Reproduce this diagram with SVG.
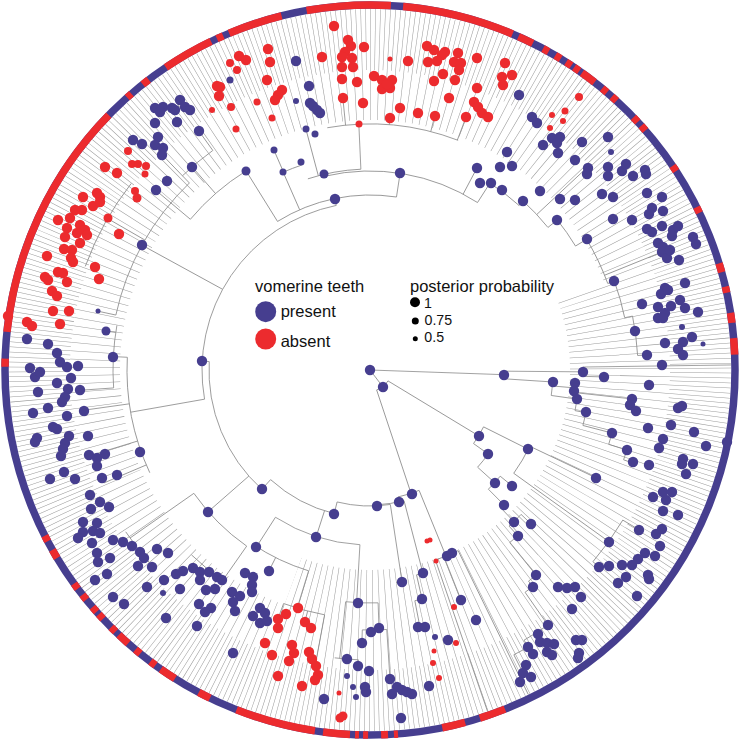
<svg xmlns="http://www.w3.org/2000/svg" width="741" height="741" viewBox="0 0 741 741">
<style>
.sk{fill:none;stroke:#8c8c8c;stroke-width:0.8}
.cb{fill:none;stroke:#9a9a9a}
.rg{fill:none;stroke-width:7.5}
.b{fill:#463e8f}
.r{fill:#ec2b2e}
text{font-family:"Liberation Sans",Arial,sans-serif;fill:#111}
</style>
<defs>
<clipPath id="sec"><polygon points="0,0 375.9,-136.8 362.5,169 136.8,375.9 -136.8,375.9"/></clipPath>
</defs>
<rect width="741" height="741" fill="#fff"/>
<g id="connectors" transform="translate(370,370)">
<circle class="cb" r="330.5" stroke-width="61" pathLength="360" stroke-dasharray="0.09 0.71" stroke-dashoffset="0.35"/>
<circle class="cb" r="275" stroke-width="50" pathLength="360" stroke-dasharray="0.11 1.49" stroke-dashoffset="0.35"/>
<circle class="cb" r="225" stroke-width="50" pathLength="360" stroke-dasharray="0.13 1.47" stroke-dashoffset="0.35" clip-path="url(#sec)"/>
<g class="sk">
<line x1="0" x2="134" transform="rotate(2)"/>
<line x1="0" x2="21" transform="rotate(52.6)"/>
<circle r="21" pathLength="360" stroke-dasharray="40.4 360" transform="rotate(31.2)"/>
<line x1="21" x2="127" transform="rotate(31.2)"/>
<line x1="21" x2="130" transform="rotate(71.6)"/>
<circle r="134" pathLength="360" stroke-dasharray="3.25 360" transform="rotate(0.5)"/>
<line x1="134" x2="213" transform="rotate(0.5)"/>
<circle r="213" pathLength="360" stroke-dasharray="2.5 360" transform="rotate(-0.8)"/>
<line x1="213" x2="361" transform="rotate(-0.8)"/>
<line x1="213" x2="234" transform="rotate(1.7)"/>
<line x1="134" x2="183" transform="rotate(3.75)"/>
<circle r="183" pathLength="360" stroke-dasharray="4.25 360" transform="rotate(3.75)"/>
<line x1="183" x2="205" transform="rotate(5)"/>
<circle r="205" pathLength="360" stroke-dasharray="2.4 360" transform="rotate(3.6)"/>
<line x1="183" x2="209" transform="rotate(8)"/>
<circle r="209" pathLength="360" stroke-dasharray="4.9 360" transform="rotate(6.3)"/>
<line x1="209" x2="264" transform="rotate(6.3)"/>
<line x1="209" x2="220" transform="rotate(11.2)"/>
<circle r="220" pathLength="360" stroke-dasharray="3.4 360" transform="rotate(11.2)"/>
<line x1="220" x2="250" transform="rotate(14.6)"/>
<circle r="250" pathLength="360" stroke-dasharray="2.7 360" transform="rotate(14.6)"/>
<line x1="250" x2="269" transform="rotate(17.3)"/>
<circle r="269" pathLength="360" stroke-dasharray="2.2 360" transform="rotate(17.3)"/>
<line x1="269" x2="279" transform="rotate(19.5)"/>
<circle r="127" pathLength="360" stroke-dasharray="8.8 360" transform="rotate(26.6)"/>
<line x1="127" x2="177" transform="rotate(26.6)"/>
<line x1="127" x2="145" transform="rotate(35.4)"/>
<circle r="177" pathLength="360" stroke-dasharray="10.2 360" transform="rotate(25.5)"/>
<line x1="177" x2="250" transform="rotate(25.5)"/>
<line x1="177" x2="294" transform="rotate(35.7)"/>
<circle r="294" pathLength="360" stroke-dasharray="10 360" transform="rotate(30.7)"/>
<line x1="294" x2="313" transform="rotate(30.7)"/>
<line x1="294" x2="302" transform="rotate(40.7)"/>
<circle r="145" pathLength="360" stroke-dasharray="6.7 360" transform="rotate(35.4)"/>
<line x1="145" x2="168" transform="rotate(42.1)"/>
<circle r="168" pathLength="360" stroke-dasharray="6 360" transform="rotate(39.2)"/>
<line x1="168" x2="183" transform="rotate(39.2)"/>
<line x1="168" x2="190" transform="rotate(45.2)"/>
<circle r="190" pathLength="360" stroke-dasharray="1.3 360" transform="rotate(45.2)"/>
<line x1="190" x2="209" transform="rotate(46.5)"/>
<circle r="209" pathLength="360" stroke-dasharray="4.6 360" transform="rotate(43.7)"/>
<line x1="209" x2="223" transform="rotate(43.7)"/>
<line x1="209" x2="222" transform="rotate(48.3)"/>
<circle r="222" pathLength="360" stroke-dasharray="2.7 360" transform="rotate(48.3)"/>
<line x1="222" x2="264" transform="rotate(51)"/>
<circle r="264" pathLength="360" stroke-dasharray="2.1 360" transform="rotate(51)"/>
<line x1="264" x2="271" transform="rotate(53.1)"/>
<circle r="271" pathLength="360" stroke-dasharray="2 360" transform="rotate(53.1)"/>
<line x1="271" x2="311" transform="rotate(55.1)"/>
<circle r="311" pathLength="360" stroke-dasharray="5.2 360" transform="rotate(55.1)"/>
<line x1="311" x2="319" transform="rotate(60.3)"/>
<circle r="319" pathLength="360" stroke-dasharray="2.9 360" transform="rotate(60.3)"/>
<line x1="319" x2="339" transform="rotate(63.2)"/>
<circle r="130" pathLength="360" stroke-dasharray="9.8 360" transform="rotate(67.8)"/>
<line x1="130" x2="201" transform="rotate(67.8)"/>
<circle r="201" pathLength="360" stroke-dasharray="7 360" transform="rotate(64)"/>
<line x1="201" x2="247" transform="rotate(68.4)"/>
<line x1="201" x2="361" transform="rotate(71)"/>
<line x1="201" x2="361" transform="rotate(64)"/>
<line x1="130" x2="135" transform="rotate(77.6)"/>
<circle r="135" pathLength="360" stroke-dasharray="11.6 360" transform="rotate(75.4)"/>
<line x1="135" x2="210" transform="rotate(75.4)"/>
<circle r="210" pathLength="360" stroke-dasharray="3.2 360" transform="rotate(74)"/>
<line x1="210" x2="235" transform="rotate(77.2)"/>
<circle r="235" pathLength="360" stroke-dasharray="1.8 360" transform="rotate(77.2)"/>
<line x1="235" x2="258" transform="rotate(79)"/>
<circle r="136" pathLength="360" stroke-dasharray="22.6 360" transform="rotate(81.4)"/>
<line x1="136" x2="214" transform="rotate(81.4)"/>
<circle r="214" pathLength="360" stroke-dasharray="3 360" transform="rotate(80)"/>
<line x1="136" x2="148" transform="rotate(104)"/>
<circle r="148" pathLength="360" stroke-dasharray="28.2 360" transform="rotate(104)"/>
<line x1="148" x2="175" transform="rotate(107.9)"/>
<line x1="148" x2="161" transform="rotate(132.2)"/>
<circle r="175" pathLength="360" stroke-dasharray="29.4 360" transform="rotate(93.3)"/>
<line x1="175" x2="233" transform="rotate(93.3)"/>
<line x1="175" x2="210" transform="rotate(122.7)"/>
<circle r="233" pathLength="360" stroke-dasharray="8 360" transform="rotate(88)"/>
<line x1="233" x2="260" transform="rotate(88)"/>
<line x1="233" x2="290" transform="rotate(96)"/>
<circle r="260" pathLength="360" stroke-dasharray="5.4 360" transform="rotate(86.3)"/>
<line x1="260" x2="310" transform="rotate(86.3)"/>
<line x1="260" x2="273" transform="rotate(91.7)"/>
<circle r="290" pathLength="360" stroke-dasharray="4.7 360" transform="rotate(92.3)"/>
<line x1="290" x2="296" transform="rotate(92.3)"/>
<circle r="210" pathLength="360" stroke-dasharray="17 360" transform="rotate(107)"/>
<line x1="210" x2="249" transform="rotate(107)"/>
<line x1="210" x2="225" transform="rotate(116.7)"/>
<circle r="249" pathLength="360" stroke-dasharray="9.8 360" transform="rotate(100.5)"/>
<line x1="249" x2="301" transform="rotate(100.5)"/>
<line x1="249" x2="260" transform="rotate(104.5)"/>
<line x1="249" x2="265" transform="rotate(110.3)"/>
<circle r="161" pathLength="360" stroke-dasharray="50.8 360" transform="rotate(132.2)"/>
<line x1="161" x2="215" transform="rotate(138.8)"/>
<circle r="215" pathLength="360" stroke-dasharray="20 360" transform="rotate(125)"/>
<line x1="215" x2="257" transform="rotate(125)"/>
<line x1="215" x2="293" transform="rotate(145)"/>
<circle r="257" pathLength="360" stroke-dasharray="10 360" transform="rotate(124)"/>
<circle r="293" pathLength="360" stroke-dasharray="8.7 360" transform="rotate(137.8)"/>
<line x1="161" x2="168" transform="rotate(183)"/>
<circle r="168" pathLength="360" stroke-dasharray="88.4 360" transform="rotate(170)"/>
<line x1="168" x2="243" transform="rotate(170)"/>
<circle r="243" pathLength="360" stroke-dasharray="28 360" transform="rotate(155)"/>
<line x1="243" x2="257" transform="rotate(183)"/>
<line x1="243" x2="289" transform="rotate(172)"/>
<line x1="243" x2="294" transform="rotate(163)"/>
<line x1="243" x2="289" transform="rotate(157)"/>
<circle r="257" pathLength="360" stroke-dasharray="14 360" transform="rotate(176)"/>
<line x1="257" x2="291" transform="rotate(176)"/>
<line x1="257" x2="267" transform="rotate(188.4)"/>
<line x1="168" x2="260" transform="rotate(208.7)"/>
<circle r="260" pathLength="360" stroke-dasharray="33.8 360" transform="rotate(192.2)"/>
<line x1="260" x2="278" transform="rotate(192.2)"/>
<line x1="260" x2="303" transform="rotate(210)"/>
<line x1="260" x2="299" transform="rotate(226)"/>
<circle r="303" pathLength="360" stroke-dasharray="18 360" transform="rotate(200)"/>
<line x1="168" x2="175" transform="rotate(258.4)"/>
<circle r="175" pathLength="360" stroke-dasharray="40.6 360" transform="rotate(238.1)"/>
<line x1="175" x2="234.5" transform="rotate(238.1)"/>
<circle r="234.5" pathLength="360" stroke-dasharray="18.1 360" transform="rotate(220)"/>
<line x1="234.5" x2="280" transform="rotate(220)"/>
<line x1="234.5" x2="270" transform="rotate(228.8)"/>
<circle r="270" pathLength="360" stroke-dasharray="8.4 360" transform="rotate(226)"/>
<line x1="270" x2="294" transform="rotate(234.4)"/>
<line x1="175" x2="216" transform="rotate(246.3)"/>
<circle r="216" pathLength="360" stroke-dasharray="5.3 360" transform="rotate(246.3)"/>
<line x1="216" x2="240" transform="rotate(246.4)"/>
<line x1="175" x2="199" transform="rotate(278.7)"/>
<circle r="199" pathLength="360" stroke-dasharray="45.9 360" transform="rotate(256.8)"/>
<circle r="201" pathLength="360" stroke-dasharray="15.4 360" transform="rotate(252)"/>
<line x1="201" x2="246" transform="rotate(267.4)"/>
<line x1="201" x2="249" transform="rotate(255.1)"/>
<circle r="246" pathLength="360" stroke-dasharray="31 360" transform="rotate(260)"/>
<line x1="246" x2="273" transform="rotate(264.3)"/>
<line x1="246" x2="253" transform="rotate(274.5)"/>
<line x1="246" x2="262" transform="rotate(284.3)"/>
<line x1="246" x2="271" transform="rotate(290.8)"/>
<line x1="199" x2="229" transform="rotate(297.9)"/>
<line x1="199" x2="222" transform="rotate(302.7)"/>
<circle r="222" pathLength="360" stroke-dasharray="9.5 360" transform="rotate(302.7)"/>
<line x1="222" x2="228" transform="rotate(312.2)"/>
<circle r="228" pathLength="360" stroke-dasharray="9.1 360" transform="rotate(312.2)"/>
<line x1="228" x2="297" transform="rotate(317)"/>
<line x1="228" x2="240" transform="rotate(321.3)"/>
<circle r="240" pathLength="360" stroke-dasharray="7.6 360" transform="rotate(321.3)"/>
<line x1="240" x2="253" transform="rotate(328.9)"/>
<circle r="253" pathLength="360" stroke-dasharray="11.1 360" transform="rotate(328.9)"/>
<line x1="253" x2="315" transform="rotate(338)"/>
<line x1="253" x2="260" transform="rotate(340)"/>
<circle r="260" pathLength="360" stroke-dasharray="8.4 360" transform="rotate(340)"/>
<line x1="260" x2="268" transform="rotate(348.4)"/>
<circle r="268" pathLength="360" stroke-dasharray="8.5 360" transform="rotate(348.4)"/>
<line x1="268" x2="277" transform="rotate(356.9)"/>
</g>
</g>
<g id="tips" transform="translate(370,370)">
<circle class="rg" r="365" stroke="#463e8f"/>
<g class="rg" stroke="#ec2b2e">
<circle r="365" pathLength="360" stroke-dasharray="4.2 360" transform="rotate(68.3)"/>
<circle r="365" pathLength="360" stroke-dasharray="3.7 360" transform="rotate(74.9)"/>
<circle r="365" pathLength="360" stroke-dasharray="0.65 360" transform="rotate(85.6)"/>
<circle r="365" pathLength="360" stroke-dasharray="1.1 360" transform="rotate(87.17)"/>
<circle r="365" pathLength="360" stroke-dasharray="0.8 360" transform="rotate(90.3)"/>
<circle r="365" pathLength="360" stroke-dasharray="0.63 360" transform="rotate(91.73)"/>
<circle r="365" pathLength="360" stroke-dasharray="4.26 360" transform="rotate(93.14)"/>
<circle r="365" pathLength="360" stroke-dasharray="12.8 360" transform="rotate(98.67)"/>
<circle r="365" pathLength="360" stroke-dasharray="2 360" transform="rotate(116)"/>
<circle r="365" pathLength="360" stroke-dasharray="2.7 360" transform="rotate(122.3)"/>
<circle r="365" pathLength="360" stroke-dasharray="1 360" transform="rotate(126)"/>
<circle r="365" pathLength="360" stroke-dasharray="1 360" transform="rotate(129)"/>
<circle r="365" pathLength="360" stroke-dasharray="2 360" transform="rotate(131.5)"/>
<circle r="365" pathLength="360" stroke-dasharray="1 360" transform="rotate(134.2)"/>
<circle r="365" pathLength="360" stroke-dasharray="1 360" transform="rotate(137)"/>
<circle r="365" pathLength="360" stroke-dasharray="1 360" transform="rotate(138.5)"/>
<circle r="365" pathLength="360" stroke-dasharray="1 360" transform="rotate(141)"/>
<circle r="365" pathLength="360" stroke-dasharray="1 360" transform="rotate(143.2)"/>
<circle r="365" pathLength="360" stroke-dasharray="1.5 360" transform="rotate(149)"/>
<circle r="365" pathLength="360" stroke-dasharray="1 360" transform="rotate(152)"/>
<circle r="365" pathLength="360" stroke-dasharray="1.3 360" transform="rotate(180.5)"/>
<circle r="365" pathLength="360" stroke-dasharray="38.3 360" transform="rotate(186)"/>
<circle r="365" pathLength="360" stroke-dasharray="0.9 360" transform="rotate(228.3)"/>
<circle r="365" pathLength="360" stroke-dasharray="1.2 360" transform="rotate(231.5)"/>
<circle r="365" pathLength="360" stroke-dasharray="8.2 360" transform="rotate(236)"/>
<circle r="365" pathLength="360" stroke-dasharray="1.1 360" transform="rotate(245.2)"/>
<circle r="365" pathLength="360" stroke-dasharray="8.7 360" transform="rotate(247.3)"/>
<circle r="365" pathLength="360" stroke-dasharray="13.3 360" transform="rotate(260)"/>
<circle r="365" pathLength="360" stroke-dasharray="17.8 360" transform="rotate(275.2)"/>
<circle r="365" pathLength="360" stroke-dasharray="2.5 360" transform="rotate(294)"/>
<circle r="365" pathLength="360" stroke-dasharray="1 360" transform="rotate(298.3)"/>
<circle r="365" pathLength="360" stroke-dasharray="1 360" transform="rotate(300.5)"/>
<circle r="365" pathLength="360" stroke-dasharray="1 360" transform="rotate(302.5)"/>
<circle r="365" pathLength="360" stroke-dasharray="1 360" transform="rotate(304)"/>
<circle r="365" pathLength="360" stroke-dasharray="2.5 360" transform="rotate(305.5)"/>
<circle r="365" pathLength="360" stroke-dasharray="1 360" transform="rotate(309.5)"/>
<circle r="365" pathLength="360" stroke-dasharray="1 360" transform="rotate(311.5)"/>
<circle r="365" pathLength="360" stroke-dasharray="1 360" transform="rotate(316.2)"/>
<circle r="365" pathLength="360" stroke-dasharray="1 360" transform="rotate(318)"/>
<circle r="365" pathLength="360" stroke-dasharray="1 360" transform="rotate(326)"/>
<circle r="365" pathLength="360" stroke-dasharray="1 360" transform="rotate(333.5)"/>
<circle r="365" pathLength="360" stroke-dasharray="1.5 360" transform="rotate(343)"/>
<circle r="365" pathLength="360" stroke-dasharray="1 360" transform="rotate(346.8)"/>
<circle r="365" pathLength="360" stroke-dasharray="1.6 360" transform="rotate(351)"/>
<circle r="365" pathLength="360" stroke-dasharray="2.6 360" transform="rotate(355)"/>
</g>
</g>
<g id="nodes-present" class="b">
<circle cx="370" cy="370" r="5.2"/><circle cx="383" cy="387" r="5.2"/><circle cx="504" cy="375" r="5.2"/><circle cx="479" cy="436" r="5.2"/><circle cx="488" cy="454" r="5.2"/><circle cx="262" cy="489" r="5.2"/>
<circle cx="230" cy="80" r="3.5"/>
<circle cx="155" cy="108" r="5.2"/><circle cx="163" cy="107" r="5.2"/><circle cx="172" cy="108" r="5.2"/><circle cx="180" cy="100" r="5.2"/><circle cx="185" cy="107" r="5.2"/><circle cx="190" cy="110" r="5.2"/><circle cx="175" cy="110" r="5.2"/><circle cx="160" cy="112" r="5.2"/>
<circle cx="155" cy="123" r="5.2"/><circle cx="177" cy="122" r="5.2"/><circle cx="199" cy="131" r="5.2"/>
<circle cx="158" cy="137" r="5.2"/><circle cx="133" cy="140" r="5.2"/><circle cx="142" cy="144" r="5.2"/><circle cx="155" cy="145" r="5.2"/><circle cx="163" cy="148" r="5.2"/><circle cx="162" cy="155" r="5.2"/>
<circle cx="192" cy="167" r="5.2"/><circle cx="167" cy="181" r="5.2"/><circle cx="156" cy="190" r="5.2"/><circle cx="246" cy="171" r="4.5"/><circle cx="142" cy="245" r="5.2"/>
<circle cx="296" cy="61" r="5.2"/><circle cx="309" cy="86" r="5.2"/><circle cx="310" cy="103" r="5.2"/><circle cx="313" cy="106" r="5.2"/><circle cx="317" cy="110" r="5.2"/><circle cx="320" cy="113" r="5.2"/>
<circle cx="296" cy="101" r="3"/><circle cx="306" cy="129" r="3.5"/><circle cx="315" cy="134" r="3.5"/><circle cx="274" cy="150" r="3.5"/><circle cx="301" cy="162" r="3.5"/><circle cx="283" cy="172" r="3.5"/>
<circle cx="324" cy="174" r="4.5"/><circle cx="400" cy="173" r="5.2"/><circle cx="335" cy="199" r="5.2"/><circle cx="477" cy="168" r="5.2"/><circle cx="480" cy="183" r="5.2"/><circle cx="491" cy="183" r="5.2"/>
<circle cx="519" cy="95" r="5.2"/><circle cx="532" cy="117" r="5.2"/><circle cx="537" cy="123" r="5.2"/><circle cx="543" cy="145" r="5.2"/><circle cx="552" cy="138" r="5.2"/><circle cx="560" cy="137" r="5.2"/><circle cx="557" cy="143" r="5.2"/><circle cx="558" cy="153" r="5.2"/>
<circle cx="507" cy="152" r="5.2"/><circle cx="500" cy="167" r="5.2"/><circle cx="512" cy="166" r="5.2"/><circle cx="502" cy="190" r="5.2"/><circle cx="523" cy="201" r="5.2"/><circle cx="540" cy="191" r="5.2"/><circle cx="560" cy="199" r="5.2"/><circle cx="575" cy="200" r="5.2"/><circle cx="557" cy="220" r="5.2"/><circle cx="587" cy="239" r="5.2"/>
<circle cx="582" cy="142" r="5.2"/><circle cx="608" cy="137" r="5.2"/><circle cx="611" cy="152" r="3"/><circle cx="575" cy="160" r="5.2"/><circle cx="588" cy="168" r="5.2"/><circle cx="587" cy="174" r="5.2"/><circle cx="608" cy="167" r="5.2"/><circle cx="608" cy="176" r="5.2"/><circle cx="622" cy="171" r="5.2"/><circle cx="626" cy="164" r="5.2"/><circle cx="633" cy="176" r="5.2"/><circle cx="645" cy="170" r="5.2"/><circle cx="646" cy="174" r="5.2"/>
<circle cx="602" cy="194" r="5.2"/><circle cx="613" cy="197" r="5.2"/><circle cx="647" cy="193" r="5.2"/><circle cx="662" cy="197" r="5.2"/><circle cx="613" cy="219" r="5.2"/><circle cx="632" cy="220" r="5.2"/><circle cx="652" cy="208" r="5.2"/><circle cx="649" cy="214" r="5.2"/><circle cx="663" cy="211" r="5.2"/><circle cx="662" cy="226" r="5.2"/><circle cx="647" cy="229" r="5.2"/><circle cx="652" cy="232" r="5.2"/><circle cx="673" cy="230" r="5.2"/><circle cx="678" cy="226" r="5.2"/><circle cx="672" cy="236" r="5.2"/><circle cx="693" cy="237" r="5.2"/>
<circle cx="696" cy="244" r="5.2"/><circle cx="658" cy="243" r="5.2"/><circle cx="663" cy="247" r="5.2"/>
<circle cx="662" cy="252" r="5.2"/><circle cx="667" cy="258" r="5.2"/><circle cx="670" cy="250" r="5.2"/><circle cx="679" cy="260" r="5.2"/>
<circle cx="614" cy="281" r="5.2"/><circle cx="685" cy="283" r="5.2"/><circle cx="665" cy="288" r="5.2"/><circle cx="661" cy="294" r="5.2"/><circle cx="668" cy="290" r="5.2"/><circle cx="680" cy="300" r="5.2"/><circle cx="685" cy="308" r="5.2"/><circle cx="642" cy="304" r="5.2"/><circle cx="658" cy="307" r="5.2"/><circle cx="671" cy="306" r="5.2"/><circle cx="665" cy="313" r="5.2"/><circle cx="658" cy="318" r="5.2"/><circle cx="663" cy="318" r="5.2"/><circle cx="698" cy="312" r="5.2"/>
<circle cx="635" cy="331" r="5.2"/><circle cx="682" cy="327" r="3"/><circle cx="692" cy="337" r="5.2"/><circle cx="703" cy="344" r="2.5"/><circle cx="665" cy="343" r="5.2"/><circle cx="683" cy="342" r="5.2"/><circle cx="678" cy="349" r="5.2"/><circle cx="683" cy="355" r="5.2"/><circle cx="647" cy="355" r="5.2"/><circle cx="662" cy="365" r="5.2"/>
<circle cx="583" cy="372" r="5.2"/><circle cx="604" cy="377" r="5.2"/><circle cx="553" cy="382" r="5.2"/><circle cx="575" cy="383" r="5.2"/><circle cx="574" cy="391" r="5.2"/><circle cx="577" cy="399" r="5.2"/><circle cx="649" cy="385" r="5.2"/><circle cx="632" cy="399" r="5.2"/><circle cx="630" cy="405" r="5.2"/><circle cx="636" cy="411" r="5.2"/><circle cx="586" cy="412" r="5.2"/><circle cx="678" cy="408" r="5.2"/><circle cx="682" cy="406" r="5.2"/>
<circle cx="612" cy="433" r="5.2"/><circle cx="648" cy="428" r="5.2"/><circle cx="671" cy="425" r="5.2"/><circle cx="694" cy="432" r="5.2"/><circle cx="663" cy="439" r="5.2"/><circle cx="659" cy="448" r="5.2"/><circle cx="627" cy="450" r="5.2"/><circle cx="633" cy="462" r="5.2"/><circle cx="649" cy="465" r="5.2"/><circle cx="683" cy="459" r="5.2"/><circle cx="682" cy="464" r="5.2"/><circle cx="693" cy="464" r="5.2"/><circle cx="686" cy="474" r="5.2"/><circle cx="706" cy="446" r="5.2"/><circle cx="727" cy="442" r="5.2"/>
<circle cx="528" cy="449" r="5.2"/><circle cx="596" cy="478" r="5.2"/><circle cx="495" cy="483" r="5.2"/><circle cx="512" cy="486" r="5.2"/>
<circle cx="653" cy="497" r="5.2"/><circle cx="663" cy="492" r="5.2"/><circle cx="672" cy="492" r="5.2"/><circle cx="666" cy="500" r="5.2"/><circle cx="663" cy="511" r="5.2"/><circle cx="678" cy="515" r="5.2"/>
<circle cx="504" cy="505" r="5.2"/><circle cx="514" cy="522" r="5.2"/><circle cx="531" cy="524" r="5.2"/><circle cx="518" cy="536" r="5.2"/>
<circle cx="609" cy="542" r="5.2"/><circle cx="639" cy="530" r="5.2"/><circle cx="656" cy="534" r="5.2"/><circle cx="662" cy="529" r="5.2"/><circle cx="660" cy="546" r="5.2"/><circle cx="655" cy="556" r="5.2"/><circle cx="645" cy="553" r="5.2"/><circle cx="638" cy="559" r="5.2"/><circle cx="632" cy="565" r="5.2"/><circle cx="622" cy="565" r="5.2"/><circle cx="609" cy="566" r="5.2"/><circle cx="599" cy="567" r="5.2"/><circle cx="648" cy="575" r="5.2"/><circle cx="649" cy="579" r="5.2"/><circle cx="626" cy="577" r="5.2"/><circle cx="618" cy="583" r="5.2"/><circle cx="637" cy="596" r="5.2"/>
<circle cx="536" cy="575" r="5.2"/><circle cx="533" cy="587" r="5.2"/><circle cx="558" cy="587" r="5.2"/><circle cx="567" cy="588" r="5.2"/><circle cx="575" cy="587" r="5.2"/><circle cx="581" cy="597" r="5.2"/><circle cx="572" cy="609" r="5.2"/>
<circle cx="548" cy="625" r="5.2"/><circle cx="538" cy="634" r="5.2"/><circle cx="528" cy="647" r="5.2"/><circle cx="540" cy="642" r="5.2"/><circle cx="547" cy="643" r="5.2"/><circle cx="554" cy="644" r="5.2"/><circle cx="547" cy="652" r="5.2"/><circle cx="552" cy="655" r="5.2"/><circle cx="533" cy="654" r="5.2"/><circle cx="576" cy="640" r="5.2"/><circle cx="582" cy="640" r="5.2"/><circle cx="579" cy="653" r="5.2"/><circle cx="578" cy="658" r="5.2"/>
<circle cx="526" cy="665" r="5.2"/><circle cx="523" cy="673" r="5.2"/><circle cx="531" cy="677" r="5.2"/><circle cx="520" cy="682" r="5.2"/>
<circle cx="412" cy="494" r="5.2"/><circle cx="377" cy="506" r="5.2"/><circle cx="399" cy="502" r="5.2"/><circle cx="334" cy="514" r="5.2"/><circle cx="316" cy="537" r="5.2"/><circle cx="256" cy="547" r="5.2"/><circle cx="269" cy="571" r="5.2"/><circle cx="245" cy="573" r="5.2"/><circle cx="253" cy="577" r="5.2"/><circle cx="252" cy="585" r="5.2"/><circle cx="252" cy="592" r="5.2"/>
<circle cx="402" cy="582" r="5.2"/><circle cx="423" cy="573" r="5.2"/><circle cx="358" cy="603" r="5.2"/><circle cx="447" cy="556" r="5.2"/><circle cx="452" cy="553" r="5.2"/><circle cx="422" cy="599" r="5.2"/><circle cx="461" cy="600" r="5.2"/><circle cx="476" cy="620" r="5.2"/>
<circle cx="371" cy="632" r="5.2"/><circle cx="379" cy="628" r="5.2"/><circle cx="362" cy="643" r="5.2"/><circle cx="418" cy="627" r="5.2"/><circle cx="425" cy="627" r="5.2"/><circle cx="435" cy="637" r="3"/><circle cx="448" cy="640" r="5.2"/>
<circle cx="347" cy="659" r="5.2"/><circle cx="358" cy="666" r="5.2"/><circle cx="369" cy="671" r="5.2"/><circle cx="347" cy="676" r="3"/><circle cx="353" cy="687" r="3"/><circle cx="356" cy="697" r="3"/><circle cx="365" cy="687" r="5.2"/><circle cx="366" cy="692" r="5.2"/>
<circle cx="390" cy="679" r="5.2"/><circle cx="397" cy="687" r="5.2"/><circle cx="392" cy="694" r="5.2"/><circle cx="402" cy="690" r="5.2"/><circle cx="407" cy="692" r="5.2"/><circle cx="412" cy="694" r="5.2"/><circle cx="429" cy="686" r="5.2"/><circle cx="324" cy="699" r="5.2"/><circle cx="401" cy="718" r="5.2"/>
<circle cx="260" cy="608" r="5.2"/><circle cx="265" cy="613" r="5.2"/><circle cx="253" cy="616" r="5.2"/><circle cx="260" cy="623" r="5.2"/><circle cx="267" cy="621" r="5.2"/>
<circle cx="90" cy="495" r="5.2"/><circle cx="100" cy="502" r="5.2"/><circle cx="109" cy="507" r="5.2"/><circle cx="91" cy="509" r="5.2"/><circle cx="83" cy="522" r="5.2"/><circle cx="97" cy="523" r="5.2"/><circle cx="83" cy="532" r="5.2"/><circle cx="93" cy="531" r="5.2"/><circle cx="100" cy="533" r="5.2"/><circle cx="78" cy="538" r="5.2"/><circle cx="92" cy="543" r="5.2"/>
<circle cx="113" cy="540" r="5.2"/><circle cx="123" cy="542" r="5.2"/><circle cx="132" cy="546" r="5.2"/><circle cx="140" cy="552" r="5.2"/><circle cx="144" cy="558" r="5.2"/><circle cx="138" cy="566" r="5.2"/><circle cx="152" cy="567" r="5.2"/><circle cx="157" cy="549" r="5.2"/><circle cx="168" cy="553" r="5.2"/>
<circle cx="97" cy="553" r="5.2"/><circle cx="110" cy="558" r="5.2"/><circle cx="98" cy="562" r="5.2"/><circle cx="107" cy="574" r="5.2"/><circle cx="95" cy="580" r="5.2"/><circle cx="147" cy="587" r="5.2"/><circle cx="164" cy="580" r="5.2"/><circle cx="163" cy="593" r="3"/><circle cx="180" cy="589" r="5.2"/><circle cx="176" cy="574" r="5.2"/><circle cx="183" cy="571" r="5.2"/><circle cx="193" cy="568" r="5.2"/><circle cx="200" cy="572" r="5.2"/><circle cx="209" cy="572" r="5.2"/><circle cx="217" cy="577" r="5.2"/><circle cx="222" cy="580" r="5.2"/><circle cx="200" cy="580" r="5.2"/><circle cx="206" cy="590" r="5.2"/><circle cx="215" cy="589" r="5.2"/>
<circle cx="113" cy="597" r="5.2"/><circle cx="124" cy="604" r="5.2"/><circle cx="199" cy="604" r="5.2"/><circle cx="211" cy="608" r="5.2"/><circle cx="205" cy="612" r="5.2"/><circle cx="232" cy="592" r="5.2"/><circle cx="240" cy="596" r="5.2"/><circle cx="233" cy="602" r="5.2"/><circle cx="235" cy="611" r="5.2"/><circle cx="166" cy="618" r="5.2"/><circle cx="197" cy="626" r="5.2"/><circle cx="233" cy="653" r="5.2"/><circle cx="208" cy="512" r="5.2"/>
<circle cx="98" cy="311" r="2.5"/><circle cx="106" cy="331" r="4.5"/><circle cx="113" cy="357" r="5.2"/><circle cx="202" cy="361" r="5.2"/>
<circle cx="27" cy="339" r="5.2"/><circle cx="48" cy="344" r="5.2"/><circle cx="57" cy="353" r="5.2"/><circle cx="60" cy="362" r="5.2"/><circle cx="67" cy="367" r="5.2"/><circle cx="78" cy="366" r="5.2"/><circle cx="30" cy="368" r="5.2"/><circle cx="35" cy="377" r="5.2"/><circle cx="40" cy="372" r="5.2"/><circle cx="71" cy="378" r="5.2"/><circle cx="57" cy="383" r="5.2"/><circle cx="38" cy="392" r="5.2"/><circle cx="68" cy="389" r="5.2"/><circle cx="80" cy="390" r="5.2"/><circle cx="65" cy="397" r="5.2"/><circle cx="62" cy="402" r="5.2"/><circle cx="84" cy="411" r="5.2"/><circle cx="48" cy="408" r="5.2"/><circle cx="33" cy="413" r="5.2"/><circle cx="67" cy="416" r="5.2"/><circle cx="53" cy="427" r="5.2"/><circle cx="57" cy="429" r="5.2"/><circle cx="69" cy="436" r="5.2"/><circle cx="88" cy="436" r="5.2"/><circle cx="37" cy="438" r="5.2"/><circle cx="35" cy="442" r="5.2"/><circle cx="65" cy="443" r="5.2"/><circle cx="63" cy="449" r="5.2"/><circle cx="61" cy="456" r="5.2"/><circle cx="89" cy="455" r="5.2"/><circle cx="105" cy="454" r="5.2"/><circle cx="97" cy="458" r="5.2"/><circle cx="97" cy="466" r="5.2"/><circle cx="140" cy="452" r="5.2"/><circle cx="50" cy="479" r="5.2"/><circle cx="64" cy="472" r="5.2"/><circle cx="75" cy="479" r="5.2"/><circle cx="102" cy="478" r="5.2"/><circle cx="117" cy="475" r="5.2"/>
</g>
<g id="nodes-absent" class="r">
<circle cx="239" cy="56" r="5.2"/><circle cx="246" cy="60" r="5.2"/><circle cx="230" cy="63" r="4"/><circle cx="237" cy="70" r="4"/><circle cx="217" cy="86" r="5.2"/><circle cx="220" cy="87" r="5.2"/><circle cx="219" cy="96" r="5.2"/><circle cx="212" cy="110" r="3"/><circle cx="231" cy="107" r="4"/><circle cx="236" cy="129" r="3.5"/>
<circle cx="128" cy="151" r="4"/><circle cx="132" cy="164" r="4"/><circle cx="138" cy="164" r="4"/><circle cx="146" cy="166" r="4"/><circle cx="145" cy="174" r="3.5"/><circle cx="105" cy="167" r="5.2"/><circle cx="117" cy="173" r="5.2"/><circle cx="135" cy="191" r="4"/><circle cx="137" cy="198" r="4.5"/><circle cx="108" cy="218" r="4.5"/><circle cx="119" cy="234" r="5.2"/>
<circle cx="83" cy="197" r="5.2"/><circle cx="97" cy="193" r="5.2"/><circle cx="100" cy="197" r="5.2"/><circle cx="93" cy="206" r="5.2"/><circle cx="100" cy="202" r="5.2"/><circle cx="75" cy="210" r="5.2"/><circle cx="82" cy="210" r="5.2"/><circle cx="58" cy="220" r="5.2"/><circle cx="70" cy="218" r="5.2"/><circle cx="80" cy="225" r="5.2"/><circle cx="85" cy="230" r="5.2"/><circle cx="67" cy="228" r="5.2"/><circle cx="77" cy="233" r="5.2"/><circle cx="65" cy="237" r="5.2"/><circle cx="87" cy="235" r="5.2"/><circle cx="80" cy="243" r="5.2"/>
<circle cx="334" cy="26" r="5.2"/><circle cx="348" cy="40" r="5.2"/><circle cx="351" cy="46" r="5.2"/><circle cx="345" cy="52" r="5.2"/><circle cx="342" cy="57" r="5.2"/><circle cx="352" cy="58" r="5.2"/><circle cx="353" cy="67" r="5.2"/><circle cx="342" cy="67" r="5.2"/><circle cx="342" cy="79" r="5.2"/><circle cx="364" cy="47" r="5.2"/><circle cx="322" cy="57" r="5.2"/><circle cx="357" cy="82" r="5.2"/><circle cx="343" cy="98" r="5.2"/><circle cx="363" cy="103" r="5.2"/><circle cx="359" cy="124" r="3.5"/>
<circle cx="374" cy="76" r="5.2"/><circle cx="382" cy="80" r="5.2"/><circle cx="392" cy="80" r="5.2"/><circle cx="382" cy="89" r="5.2"/><circle cx="390" cy="88" r="5.2"/><circle cx="387" cy="84" r="5.2"/>
<circle cx="390" cy="59" r="2.5"/><circle cx="408" cy="61" r="5.2"/><circle cx="400" cy="108" r="5.2"/><circle cx="418" cy="113" r="5.2"/><circle cx="435" cy="116" r="5.2"/><circle cx="390" cy="118" r="5.2"/>
<circle cx="427" cy="46" r="5.2"/><circle cx="434" cy="50" r="5.2"/><circle cx="445" cy="52" r="5.2"/><circle cx="442" cy="55" r="5.2"/><circle cx="458" cy="53" r="5.2"/><circle cx="428" cy="62" r="5.2"/><circle cx="437" cy="61" r="5.2"/><circle cx="454" cy="62" r="5.2"/><circle cx="461" cy="63" r="5.2"/><circle cx="459" cy="70" r="5.2"/><circle cx="443" cy="74" r="5.2"/><circle cx="434" cy="81" r="5.2"/><circle cx="455" cy="80" r="5.2"/><circle cx="477" cy="58" r="5.2"/><circle cx="477" cy="88" r="5.2"/><circle cx="449" cy="98" r="5.2"/><circle cx="474" cy="102" r="5.2"/><circle cx="478" cy="107" r="5.2"/><circle cx="482" cy="113" r="5.2"/><circle cx="488" cy="117" r="5.2"/><circle cx="466" cy="117" r="5.2"/>
<circle cx="268" cy="49" r="5.2"/><circle cx="270" cy="62" r="5.2"/><circle cx="267" cy="80" r="5.2"/><circle cx="282" cy="90" r="5.2"/><circle cx="278" cy="95" r="5.2"/><circle cx="275" cy="100" r="5.2"/><circle cx="257" cy="102" r="3.5"/><circle cx="272" cy="118" r="3.5"/>
<circle cx="505" cy="63" r="5.2"/><circle cx="502" cy="77" r="5.2"/><circle cx="512" cy="75" r="5.2"/><circle cx="503" cy="85" r="5.2"/><circle cx="579" cy="97" r="4"/><circle cx="565" cy="111" r="3.5"/><circle cx="552" cy="115" r="3"/><circle cx="563" cy="121" r="3"/><circle cx="550" cy="128" r="3"/>
<circle cx="427" cy="541" r="2.5"/><circle cx="430" cy="540" r="2.5"/><circle cx="436" cy="561" r="2.5"/><circle cx="454" cy="607" r="3"/><circle cx="456" cy="643" r="3"/><circle cx="434" cy="651" r="2.5"/><circle cx="433" cy="663" r="3"/><circle cx="439" cy="678" r="3"/><circle cx="339" cy="693" r="2.5"/><circle cx="340" cy="718" r="4.5"/><circle cx="343" cy="716" r="4.5"/>
<circle cx="298" cy="608" r="5.2"/><circle cx="286" cy="614" r="5.2"/><circle cx="278" cy="619" r="5.2"/><circle cx="278" cy="628" r="5.2"/><circle cx="305" cy="622" r="5.2"/><circle cx="311" cy="628" r="5.2"/><circle cx="265" cy="643" r="5.2"/><circle cx="292" cy="645" r="5.2"/><circle cx="294" cy="653" r="5.2"/><circle cx="272" cy="655" r="5.2"/><circle cx="289" cy="661" r="5.2"/><circle cx="309" cy="652" r="5.2"/><circle cx="312" cy="659" r="5.2"/><circle cx="316" cy="666" r="5.2"/><circle cx="318" cy="675" r="5.2"/><circle cx="315" cy="680" r="5.2"/><circle cx="278" cy="676" r="5.2"/><circle cx="302" cy="686" r="5.2"/>
<circle cx="64" cy="249" r="5.2"/><circle cx="72" cy="250" r="5.2"/><circle cx="71" cy="258" r="5.2"/><circle cx="73" cy="262" r="5.2"/><circle cx="47" cy="256" r="5.2"/><circle cx="95" cy="267" r="5.2"/><circle cx="99" cy="279" r="5.2"/><circle cx="58" cy="272" r="5.2"/><circle cx="63" cy="273" r="5.2"/><circle cx="45" cy="277" r="5.2"/><circle cx="48" cy="280" r="5.2"/><circle cx="67" cy="282" r="5.2"/><circle cx="52" cy="291" r="5.2"/><circle cx="57" cy="296" r="5.2"/><circle cx="53" cy="311" r="5.2"/><circle cx="69" cy="311" r="5.2"/><circle cx="60" cy="324" r="5.2"/><circle cx="27" cy="322" r="5.2"/><circle cx="32" cy="326" r="5.2"/><circle cx="8" cy="316" r="5.2"/>
</g>
<g id="legend">
<text x="255" y="291.5" font-size="16.5">vomerine teeth</text>
<circle class="b" cx="265.7" cy="311.7" r="10.5"/>
<text x="280.7" y="317" font-size="16.5">present</text>
<circle class="r" cx="265.7" cy="339" r="10.5"/>
<text x="280.7" y="347" font-size="16.5">absent</text>
<text x="410" y="291.5" font-size="16.5">posterior probability</text>
<circle cx="415" cy="302.3" r="5" fill="#000"/>
<text x="424" y="307.5" font-size="14.2">1</text>
<circle cx="415.3" cy="321" r="3.5" fill="#000"/>
<text x="424.5" y="325" font-size="14.2">0.75</text>
<circle cx="415.3" cy="338.7" r="2.5" fill="#000"/>
<text x="424.3" y="342" font-size="14.2">0.5</text>
</g>
</svg>
